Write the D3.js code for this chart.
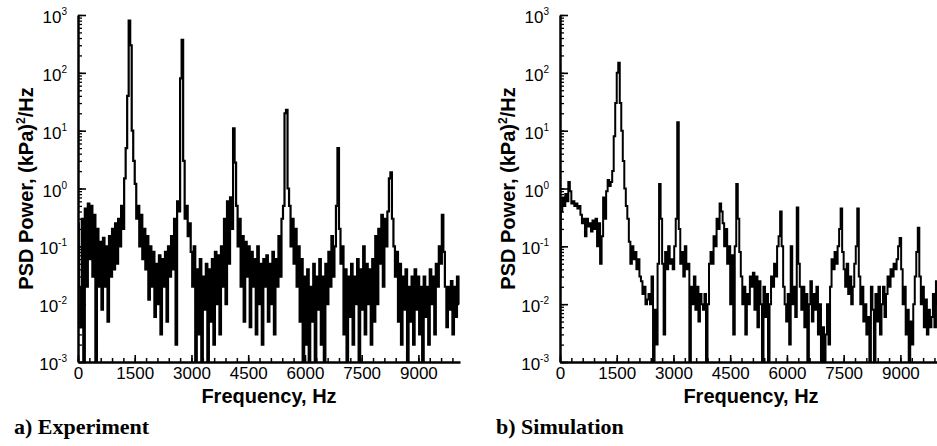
<!DOCTYPE html>
<html>
<head>
<meta charset="utf-8">
<script src="https://cdn.jsdelivr.net/npm/d3@7"></script>
<style>
body { margin: 0; background: #fff; }
text { font-family: "Liberation Sans", Arial, sans-serif; fill: #000; }
</style>
</head>
<body>
<div id="chart"></div>
<script>
// frequency bins, Hz
const FREQ_STEP = 40
const FREQ_MAX = 10100

// PSD of the experiment, (kPa)^2/Hz, one row per 1000 Hz
const expPower = [
  .25, .02, .004, .3, .001, .45, .02, .55, .06, .5, .03, .35, .001, .2, .02, .12, .008, .14, .02, .1, .005, .15, .03, .2, .04,
  .25, .05, .3, .1, .5, .2, 1.5, 5, 40, 800, 300, 10, 3, 1.2, .3, .5, .1, .35, .06, .2, .04, .15, .012, .1, .02,
  .08, .006, .05, .01, .07, .003, .06, .02, .08, .005, .1, .03, .15, .04, .3, .002, .6, .4, 80, 370, 3, .3, .5, .15, .25,
  .08, .02, .1, .001, .04, .003, .06, .001, .03, .008, .05, .001, .04, .005, .06, .002, .08, .01, .07, .003, .1, .02, .3, .01, .6,
  .05, .7, .2, 11, 2.8, .5, .1, .3, .02, .15, .005, .12, .03, .1, .004, .08, .02, .06, .003, .1, .01, .05, .002, .06, .02,
  .07, .005, .05, .01, .08, .003, .06, .02, .15, .03, .3, .5, 20, 23, 1, .5, .1, .3, .05, .2, .02, .1, .005, .06, .001,
  .03, .002, .04, .001, .02, .005, .05, .001, .03, .008, .06, .002, .03, .001, .05, .01, .08, .02, .15, .03, .1, .5, 5, .2, .05,
  .1, .003, .04, .001, .03, .006, .05, .002, .03, .01, .06, .001, .04, .008, .1, .003, .05, .01, .04, .002, .06, .005, .15, .01, .2,
  .05, .35, .02, .3, .1, .4, 1.5, 1.9, .3, .1, .03, .08, .005, .05, .002, .03, .008, .04, .001, .02, .005, .03, .002, .04, .008,
  .03, .003, .02, .001, .03, .006, .02, .002, .04, .01, .03, .003, .05, .02, .1, .05, .35, .08, .02, .004, .02, .008, .025, .003, .02,
  .006, .03, .01
]

// PSD of the simulation, (kPa)^2/Hz, one row per 1000 Hz
const simPower = [
  .03, .4, .7, .5, .8, .6, 1.3, .9, .55, .6, .5, .55, .45, .5, .35, .25, .3, .15, .3, .22, .25, .18, .28, .2, .3,
  .1, .25, .05, .15, .7, .3, .9, 1.4, 1.1, 1.3, 2, 8, 30, 100, 150, 30, 10, 3, 1, .5, .3, .12, .05, .1, .06,
  .08, .04, .06, .03, .025, .015, .02, .01, .012, .015, .01, .03, .001, .008, .002, .05, 1.2, .3, .05, .003, .08, .04, .1, .05, .06,
  .04, .1, .3, 14, .2, .05, .08, .03, .1, .04, .05, .001, .02, .01, .03, .008, .02, .005, .015, .01, .008, .015, .001, .01, .05,
  .08, .05, .15, .1, .3, .2, .55, .4, .25, .1, .2, .05, .1, .01, .07, .003, .1, 1.2, .3, .08, .03, .01, .02, .003, .015,
  .01, .03, .02, .035, .008, .03, .004, .025, .01, .001, .02, .006, .015, .001, .01, .03, .02, .05, .03, .1, .15, .4, .1, .02, .01,
  .005, .015, .002, .1, .01, .02, .006, .47, .05, .02, .008, .02, .004, .015, .001, .01, .025, .005, .015, .008, .02, .003, .01, .001, .004,
  .001, .003, .01, .002, .02, .06, .04, .08, .05, .1, .2, .45, .08, .04, .02, .05, .015, .03, .01, .02, .05, .1, .45, .03, .01,
  .02, .005, .01, .003, .006, .001, .02, .008, .001, .015, .005, .02, .003, .01, .02, .006, .015, .03, .02, .04, .03, .05, .04, .06, .1,
  .14, .04, .01, .02, .003, .008, .001, .005, .002, .01, .03, .08, .21, .03, .01, .02, .004, .012, .003, .008, .004, .006, .015, .004, .025,
  .01, .02, .008
]

const xTickValues = [0, 1500, 3000, 4500, 6000, 7500, 9000]
const yDecades = [-3, -2, -1, 0, 1, 2, 3]
const captions = ['a) Experiment', 'b) Simulation']

const WIDTH = 937
const HEIGHT = 446
const plotTop = 15
const plotBottom = 362
const plotWidth = 382

let svg = d3.select('#chart')
  .append('svg')
  .attr('width', WIDTH)
  .attr('height', HEIGHT)

function drawPanel(left, power, caption, lineWidth, id) {
  let xScale = d3.scaleLinear().domain([0, FREQ_MAX]).range([left, left + plotWidth])
  let yScale = d3.scaleLog().domain([1e-3, 1e3]).range([plotBottom, plotTop])

  let g = svg.append('g').attr('class', 'panel-' + id)

  svg.append('clipPath')
    .attr('id', 'clip-' + id)
    .append('rect')
    .attr('x', left)
    .attr('y', plotTop - 2)
    .attr('width', plotWidth)
    .attr('height', plotBottom - plotTop + 2)

  // spectrum, drawn as steps like the original plot
  let line = d3.line()
    .x((d, i) => xScale(i * FREQ_STEP))
    .y(d => yScale(d))
    .curve(d3.curveStep)

  g.append('path')
    .datum(power)
    .attr('clip-path', 'url(#clip-' + id + ')')
    .attr('d', line)
    .attr('fill', 'none')
    .attr('stroke', '#000')
    .attr('stroke-width', lineWidth)

  // minor ticks
  g.append('g')
    .attr('transform', 'translate(0,' + plotBottom + ')')
    .call(d3.axisBottom(xScale).tickValues(d3.range(0, FREQ_MAX, 300)).tickSize(-4).tickSizeOuter(0).tickFormat(''))
    .call(a => a.select('.domain').remove())
    .selectAll('line').attr('stroke-width', 1.5)

  g.append('g')
    .attr('transform', 'translate(' + left + ',0)')
    .call(d3.axisLeft(yScale).tickValues(yScale.ticks()).tickSize(-4).tickSizeOuter(0).tickFormat(''))
    .call(a => a.select('.domain').remove())
    .selectAll('line').attr('stroke-width', 1.3)

  // major ticks and axis lines
  let xAxis = g.append('g')
    .attr('transform', 'translate(0,' + plotBottom + ')')
    .call(d3.axisBottom(xScale).tickValues(xTickValues).tickSize(-7).tickSizeOuter(0).tickPadding(5).tickFormat(d3.format('d')))
  xAxis.select('.domain').attr('stroke-width', 2.5)
  xAxis.selectAll('line').attr('stroke-width', 1.6)
  xAxis.selectAll('text')
    .attr('font-size', 17)
    .attr('font-family', '"Liberation Sans", Arial, sans-serif')

  let yAxis = g.append('g')
    .attr('transform', 'translate(' + left + ',0)')
    .call(d3.axisLeft(yScale).tickValues(yDecades.map(e => Math.pow(10, e))).tickSize(-8).tickSizeOuter(0).tickFormat(''))
  yAxis.select('.domain').attr('stroke-width', 2.5)
  yAxis.selectAll('line').attr('stroke-width', 1.6)

  // 10^n labels
  let yLabels = g.selectAll('.ylabel')
    .data(yDecades)
    .join('text')
    .attr('class', 'ylabel')
    .attr('x', left - 11)
    .attr('y', e => yScale(Math.pow(10, e)) + 8)
    .attr('text-anchor', 'end')
    .attr('font-size', 17)
  yLabels.append('tspan').text('10')
  yLabels.append('tspan')
    .attr('dy', -8)
    .attr('font-size', 10)
    .text(e => e)

  // axis titles
  g.append('text')
    .attr('x', left + plotWidth / 2)
    .attr('y', 403)
    .attr('text-anchor', 'middle')
    .attr('font-size', 20)
    .attr('font-weight', 'bold')
    .text('Frequency, Hz')

  let yTitle = g.append('text')
    .attr('transform', 'translate(' + (left - 45) + ',' + ((plotTop + plotBottom) / 2) + ') rotate(-90)')
    .attr('text-anchor', 'middle')
    .attr('font-size', 20)
    .attr('font-weight', 'bold')
  yTitle.append('tspan').text('PSD Power, (kPa)')
  yTitle.append('tspan').attr('dy', -8).attr('font-size', 12).text('2')
  yTitle.append('tspan').attr('dy', 8).text('/Hz')

  // panel caption
  g.append('text')
    .attr('x', left - 64)
    .attr('y', 434)
    .attr('font-size', 22)
    .attr('font-weight', 'bold')
    .style('font-family', '"Liberation Serif", "Times New Roman", serif')
    .text(caption)
}

drawPanel(78, expPower, captions[0], 2.2, 'exp')
drawPanel(560, simPower, captions[1], 2, 'sim')
</script>
</body>
</html>
